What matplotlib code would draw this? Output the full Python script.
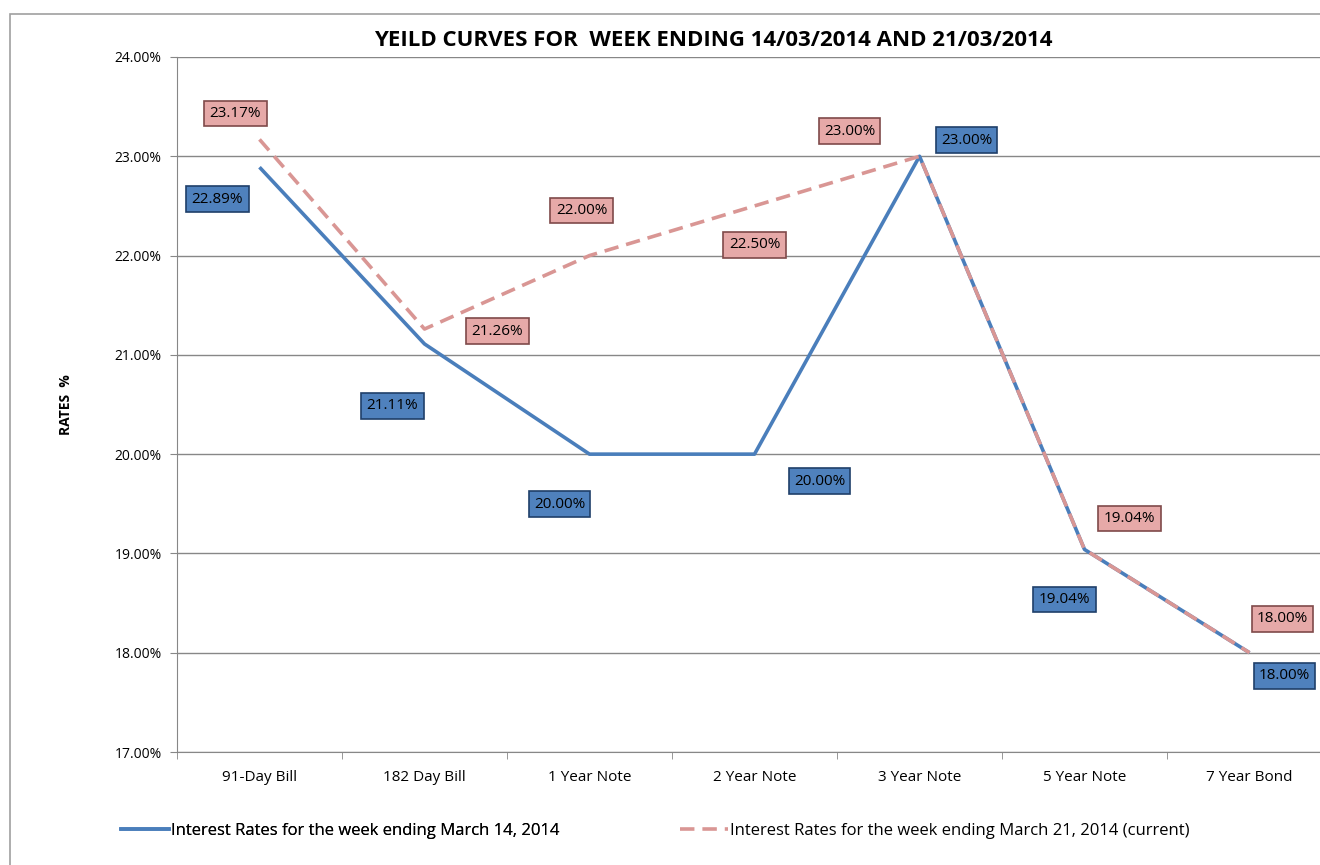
import matplotlib.pyplot as plt
from matplotlib.patches import Rectangle
from matplotlib.lines import Line2D
from matplotlib.ticker import FuncFormatter, FixedLocator

plt.rcParams['font.family'] = ['Open Sans', 'DejaVu Sans']

categories = ['91-Day Bill', '182 Day Bill', '1 Year Note', '2 Year Note',
              '3 Year Note', '5 Year Note', '7 Year Bond']
week_14 = [22.89, 21.11, 20.00, 20.00, 23.00, 19.04, 18.00]
week_21 = [23.17, 21.26, 22.00, 22.50, 23.00, 19.04, 18.00]
yticks = [17, 18, 19, 20, 21, 22, 23, 24]
name_14 = 'Interest Rates for the week ending March 14, 2014'
name_21 = 'Interest Rates for the week ending March 21, 2014 (current)'

# label offsets in pixels (dx, dy) from each point
off_14 = [(-42, -32), (-32, -62), (-30, -50), (65, -27), (47, 16), (-20, -50), (35, -23)]
off_21 = [(-24, 26), (73, -2), (-8, 45), (0, -39), (-70, 25), (45, 31), (33, 34)]

blue = '#4A7EBB'
red = '#D99694'

fig = plt.figure(figsize=(13.2, 8.65), dpi=100)
# axes: x 177..1332 px, y 57..752 px
ax = fig.add_axes([177 / 1320, 1 - 752 / 865, 1155 / 1320, 695 / 865])

x = list(range(len(categories)))
ax.plot(x, week_14, color=blue, lw=2.6, solid_capstyle='butt', zorder=3)
ax.plot(x, week_21, color=red, lw=2.6, dashes=(4, 2.2), zorder=4)

for xi, v, (dx, dy) in zip(x, week_14, off_14):
    ax.annotate(f'{v:.2f}%', (xi, v), xytext=(dx, dy), textcoords='offset pixels',
                ha='center', va='center', fontsize=11, color='black', zorder=6,
                bbox=dict(boxstyle='square,pad=0.35', fc='#4F81BD', ec='#1F3F6A', lw=1.2))
for xi, v, (dx, dy) in zip(x, week_21, off_21):
    ax.annotate(f'{v:.2f}%', (xi, v), xytext=(dx, dy), textcoords='offset pixels',
                ha='center', va='center', fontsize=11, color='black', zorder=6,
                bbox=dict(boxstyle='square,pad=0.35', fc='#E6A9A8', ec='#7F4A4A', lw=1.2))

ax.set_xlim(-0.5, len(categories) - 0.5)
ax.set_ylim(17, 24)
ax.set_yticks(yticks)
ax.yaxis.set_major_formatter(FuncFormatter(lambda v, p: f'{v:.2f}%'))
ax.set_xticks(x)
ax.set_xticklabels(categories, fontsize=11)
ax.xaxis.set_minor_locator(FixedLocator([i - 0.5 for i in range(len(categories) + 1)]))
ax.tick_params(axis='x', which='major', length=0, pad=13)
ax.tick_params(axis='x', which='minor', length=5, color='#878787')
ax.tick_params(axis='y', length=5, color='#878787', labelsize=10, pad=6)
ax.grid(axis='y', color='#878787', lw=1)
ax.set_axisbelow(True)
for s in ['top', 'right']:
    ax.spines[s].set_visible(False)
for s in ['left', 'bottom']:
    ax.spines[s].set_color('#878787')

ax.set_ylabel('RATES  %', fontsize=10, fontweight='bold', labelpad=30)
fig.text(713 / 1320, 1 - 40 / 865, 'YEILD CURVES FOR  WEEK ENDING 14/03/2014 AND 21/03/2014',
         ha='center', va='center', fontsize=16, fontweight='bold')

leg1 = fig.legend([Line2D([], [], color=blue, lw=2.6)], [name_14],
                  loc='center left', bbox_to_anchor=(106 / 1320, 1 - 831 / 865),
                  frameon=False, fontsize=12, handlelength=2.9, handletextpad=0.1)
fig.add_artist(leg1)
fig.legend([Line2D([], [], color=red, lw=2.6, dashes=(4, 2.2))], [name_21],
           loc='center left', bbox_to_anchor=(665 / 1320, 1 - 831 / 865),
           frameon=False, fontsize=12, handlelength=2.9, handletextpad=0.1)

fig.patches.append(Rectangle((10 / 1320, -0.1), 1.2, 1 - 14 / 865 + 0.1,
                             transform=fig.transFigure, fill=False, ec='#A0A0A0', lw=1.2))

fig.savefig('out.png', dpi=100)
